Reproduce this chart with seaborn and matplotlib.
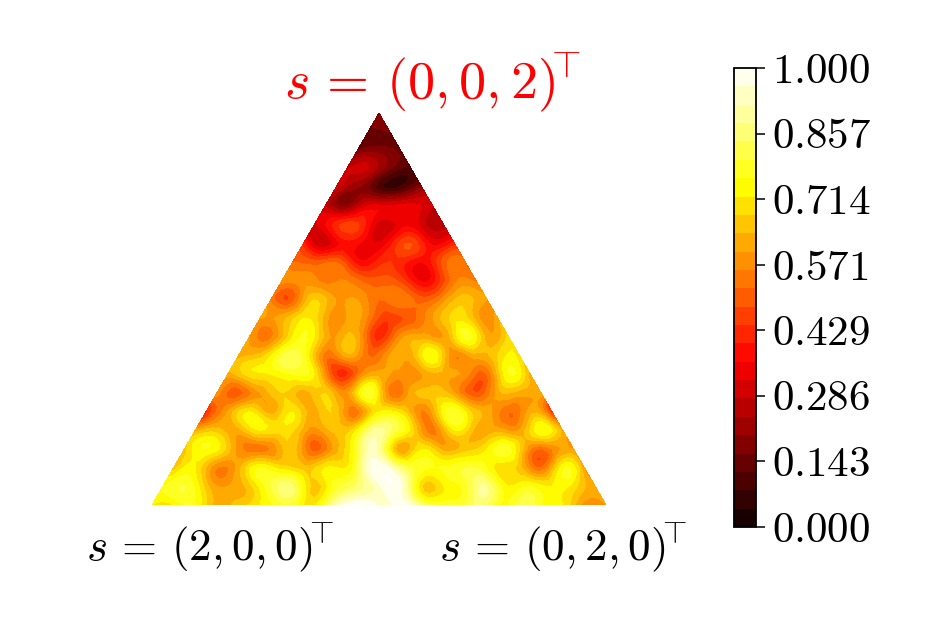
import numpy as np
import matplotlib
matplotlib.use("Agg")
import matplotlib.pyplot as plt
import matplotlib.tri as mtri
import seaborn as sns

# Values on the simplex, one row per level from the apex (0,0,2) down to the base
row_00 = [.20]
row_01 = [.14, .16]
row_02 = [.16, .18, .15]
row_03 = [.28, .28, .16, .10]
row_04 = [.30, .20, .10, .09, .20]
row_05 = [.28, .20, .33, .33, .34, .28]
row_06 = [.30, .42, .45, .30, .34, .30, .26]
row_07 = [.42, .29, .38, .33, .38, .48, .35, .42]
row_08 = [.52, .50, .52, .38, .42, .42, .36, .50, .52]
row_09 = [.58, .58, .55, .56, .50, .50, .40, .38, .55, .55]
row_10 = [.55, .50, .68, .60, .60, .52, .55, .50, .58, .66, .60]
row_11 = [.60, .62, .72, .62, .60, .55, .45, .50, .60, .70, .62, .62]
row_12 = [.60, .55, .72, .72, .60, .62, .42, .58, .62, .60, .78, .62, .70]
row_13 = [.62, .66, .80, .78, .54, .62, .52, .60, .62, .76, .56, .62, .68, .70]
row_14 = [.62, .70, .72, .76, .72, .44, .52, .62, .58, .60, .62, .58, .52, .76, .62]
row_15 = [.58, .50, .60, .68, .62, .68, .58, .80, .54, .62, .66, .60, .48, .62, .62, .62]
row_16 = [.42, .60, .72, .62, .72, .62, .66, .54, .72, .70, .55, .75, .72, .62, .52, .62, .44]
row_17 = [.62, .66, .62, .72, .70, .62, .62, .66, .85, .85, .70, .54, .72, .62, .62, .60, .76, .62]
row_18 = [.66, .76, .66, .54, .56, .66, .50, .62, .80, .90, .60, .72, .62, .66, .72, .78, .56, .56, .60]
row_19 = [.66, .72, .56, .62, .76, .70, .66, .72, .72, .95, .95, .80, .76, .78, .80, .70, .66, .52, .75, .60]
row_20 = [.76, .80, .66, .60, .66, .80, .85, .66, .78, .85, .95, .97, .68, .72, .78, .88, .72, .76, .72, .70, .62]
row_21 = [.72, .72, .76, .62, .66, .72, .78, .72, .80, .98, 1.0, .95, .95, .80, .78, .85, .76, .82, .76, .72, .58, .60]

rows = [row_00, row_01, row_02, row_03, row_04, row_05, row_06, row_07, row_08, row_09, row_10,
        row_11, row_12, row_13, row_14, row_15, row_16, row_17, row_18, row_19, row_20, row_21]

corner_top = r"$s\,=\,(0, 0, 2)\!\!^\top$"
corner_left = r"$s\,=\,(2, 0, 0)\!\!^\top$"
corner_right = r"$s\,=\,(0, 2, 0)\!\!^\top$"
cbar_ticks = [0.000, 0.143, 0.286, 0.429, 0.571, 0.714, 0.857, 1.000]

sns.set_style("white")
plt.rcParams["mathtext.fontset"] = "cm"
plt.rcParams["font.family"] = ["cmr10", "DejaVu Sans"]
plt.rcParams["axes.formatter.use_mathtext"] = True
plt.rcParams["text.color"] = "black"
plt.rcParams["ytick.labelcolor"] = "black"

W, H = 934, 623
fig = plt.figure(figsize=(W / 100, H / 100), dpi=100)

# triangle axes: base from x=152 to x=606 at y=505, apex at y=113
ax = fig.add_axes([152 / W, (H - 505) / H, 454 / W, 392 / H])

# barycentric grid -> cartesian
n = len(rows) - 1
xs, ys, zs = [], [], []
for k, row in enumerate(rows):
    for j, v in enumerate(row):
        xs.append(0.5 + (j - k / 2) / n)
        ys.append(1 - k / n)
        zs.append(v)
tri = mtri.Triangulation(xs, ys)

# smooth the surface a little, the reference looks finer than the grid
refiner = mtri.UniformTriRefiner(tri)
tri_fine, z_fine = refiner.refine_field(np.array(zs), subdiv=2)
z_fine = np.clip(z_fine, 0, 1)

levels = np.linspace(0, 1, 26)
cmap = sns.color_palette("hot", as_cmap=True)
cs = ax.tricontourf(tri_fine, z_fine, levels=levels, cmap=cmap, vmin=0, vmax=1)
ax.set_xlim(0, 1)
ax.set_ylim(0, 1)
ax.axis("off")

# colorbar
cax = fig.add_axes([734 / W, (H - 527) / H, 22 / W, 459 / H])
cb = fig.colorbar(cs, cax=cax, ticks=cbar_ticks)
cb.ax.set_yticklabels(["$%.3f$" % t for t in cbar_ticks])
cb.ax.tick_params(labelsize=31, length=6.5, width=1.1, color="black", right=True, pad=5)
cb.outline.set_edgecolor("black")
cb.outline.set_linewidth(1.3)

# corner labels
fig.text(433 / W, 1 - 82 / H, corner_top, color="red", fontsize=39, ha="center", va="center")
fig.text(210 / W, 1 - 548 / H, corner_left, color="black", fontsize=32.5, ha="center", va="center")
fig.text(563 / W, 1 - 548 / H, corner_right, color="black", fontsize=32.5, ha="center", va="center")

fig.savefig("out.png", dpi=100)
